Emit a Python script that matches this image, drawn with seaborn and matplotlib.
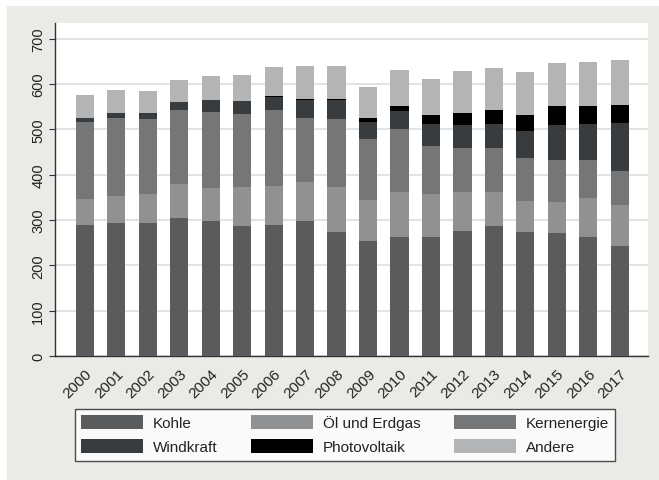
import numpy as np
import pandas as pd
import matplotlib
matplotlib.use("Agg")
import matplotlib.pyplot as plt
from matplotlib.patches import Patch, Rectangle
import seaborn as sns

# =====================================================
# DATA (TWh)
# =====================================================

years = [str(y) for y in range(2000, 2018)]

kohle = [290, 293, 293, 304, 297, 287, 289, 297, 273, 253,
         262, 262, 276, 287, 274, 272, 262, 243]
oel_gas = [56, 61, 64, 75, 74, 87, 87, 88, 100, 91,
           99, 95, 85, 76, 68, 68, 86, 91]
kern = [170, 172, 166, 163, 168, 161, 166, 140, 150, 135,
        141, 107, 99, 97, 96, 92, 84, 75]
wind = [9, 10, 14, 18, 25, 27, 30, 40, 41, 38,
        38, 48, 50, 52, 58, 78, 80, 106]
pv = [0, 0, 0, 1, 1, 1, 2, 3, 4, 9,
      11, 20, 27, 30, 36, 41, 39, 39]
andere = [50, 51, 49, 49, 52, 58, 63, 72, 72, 68,
          81, 80, 91, 94, 94, 96, 98, 99]

series_names = ["Kohle", "Öl und Erdgas", "Kernenergie",
                "Windkraft", "Photovoltaik", "Andere"]
series_values = [kohle, oel_gas, kern, wind, pv, andere]
series_colors = ["#595b5d", "#8f9193", "#747678",
                 "#393c3e", "#000000", "#b3b4b5"]

# =====================================================
# PLOT
# =====================================================

sns.set_style("white")
plt.rcParams["font.family"] = ["Liberation Sans", "DejaVu Sans"]

fig = plt.figure(figsize=(6.59, 4.81), dpi=100, facecolor="white")
# gray graph region (white margin top/left like the scan)
fig.patches.append(Rectangle((7 / 659, 0), 1, (481 - 7) / 481,
                             transform=fig.transFigure,
                             facecolor="#eaeae7", edgecolor="none", zorder=-10))

ax = fig.add_axes([55 / 659, (481 - 357) / 481,
                   (648 - 55) / 659, (357 - 24) / 481])
ax.set_facecolor("white")

bottom = np.zeros(len(years))
for name, vals, col in zip(series_names, series_values, series_colors):
    df = pd.DataFrame({"Jahr": years, "Wert": vals})
    sns.barplot(data=df, x="Jahr", y="Wert", color=col, saturation=1,
                width=0.58, linewidth=0, errorbar=None,
                bottom=bottom, ax=ax, zorder=3)
    bottom = bottom + np.array(vals)

ax.set_xlim(-0.95, 17.9)
ax.set_ylim(0, 735)
ax.set_yticks(range(0, 701, 100))
ax.yaxis.grid(True, color="#dedede", linewidth=1.2, zorder=0)
ax.set_axisbelow(True)
ax.set_xlabel("")
ax.set_ylabel("")

for s in ["top", "right"]:
    ax.spines[s].set_visible(False)
for s in ["left", "bottom"]:
    ax.spines[s].set_color("#333333")
    ax.spines[s].set_linewidth(1.0)

ax.tick_params(axis="y", left=True, length=4, width=0.8, color="#333333",
               labelsize=10.5, labelcolor="#222222", pad=3)
ax.tick_params(axis="x", bottom=False, labelsize=11, labelcolor="#222222", pad=4)
for lbl in ax.get_yticklabels():
    lbl.set_rotation(90)
    lbl.set_va("center")
for lbl in ax.get_xticklabels():
    lbl.set_rotation(45)
    lbl.set_ha("right")
    lbl.set_rotation_mode("anchor")

# legend, row-wise order in 3 columns
handles = [Patch(facecolor=c, edgecolor="none") for c in series_colors]
order = [0, 3, 1, 4, 2, 5]
leg = fig.legend([handles[i] for i in order], [series_names[i] for i in order],
                 ncol=3, loc="upper left",
                 bbox_to_anchor=(75 / 659, (481 - 410) / 481),
                 bbox_transform=fig.transFigure,
                 fancybox=False, frameon=True, fontsize=11,
                 handlelength=4.05, handleheight=1.0, handletextpad=0.65,
                 columnspacing=2.2, labelspacing=0.6,
                 borderpad=0.4, borderaxespad=0)
leg.get_frame().set_edgecolor("#222222")
leg.get_frame().set_linewidth(1.0)
for t in leg.get_texts():
    t.set_color("#222222")

plt.savefig("out.png", dpi=100, facecolor=fig.get_facecolor())
plt.close()
